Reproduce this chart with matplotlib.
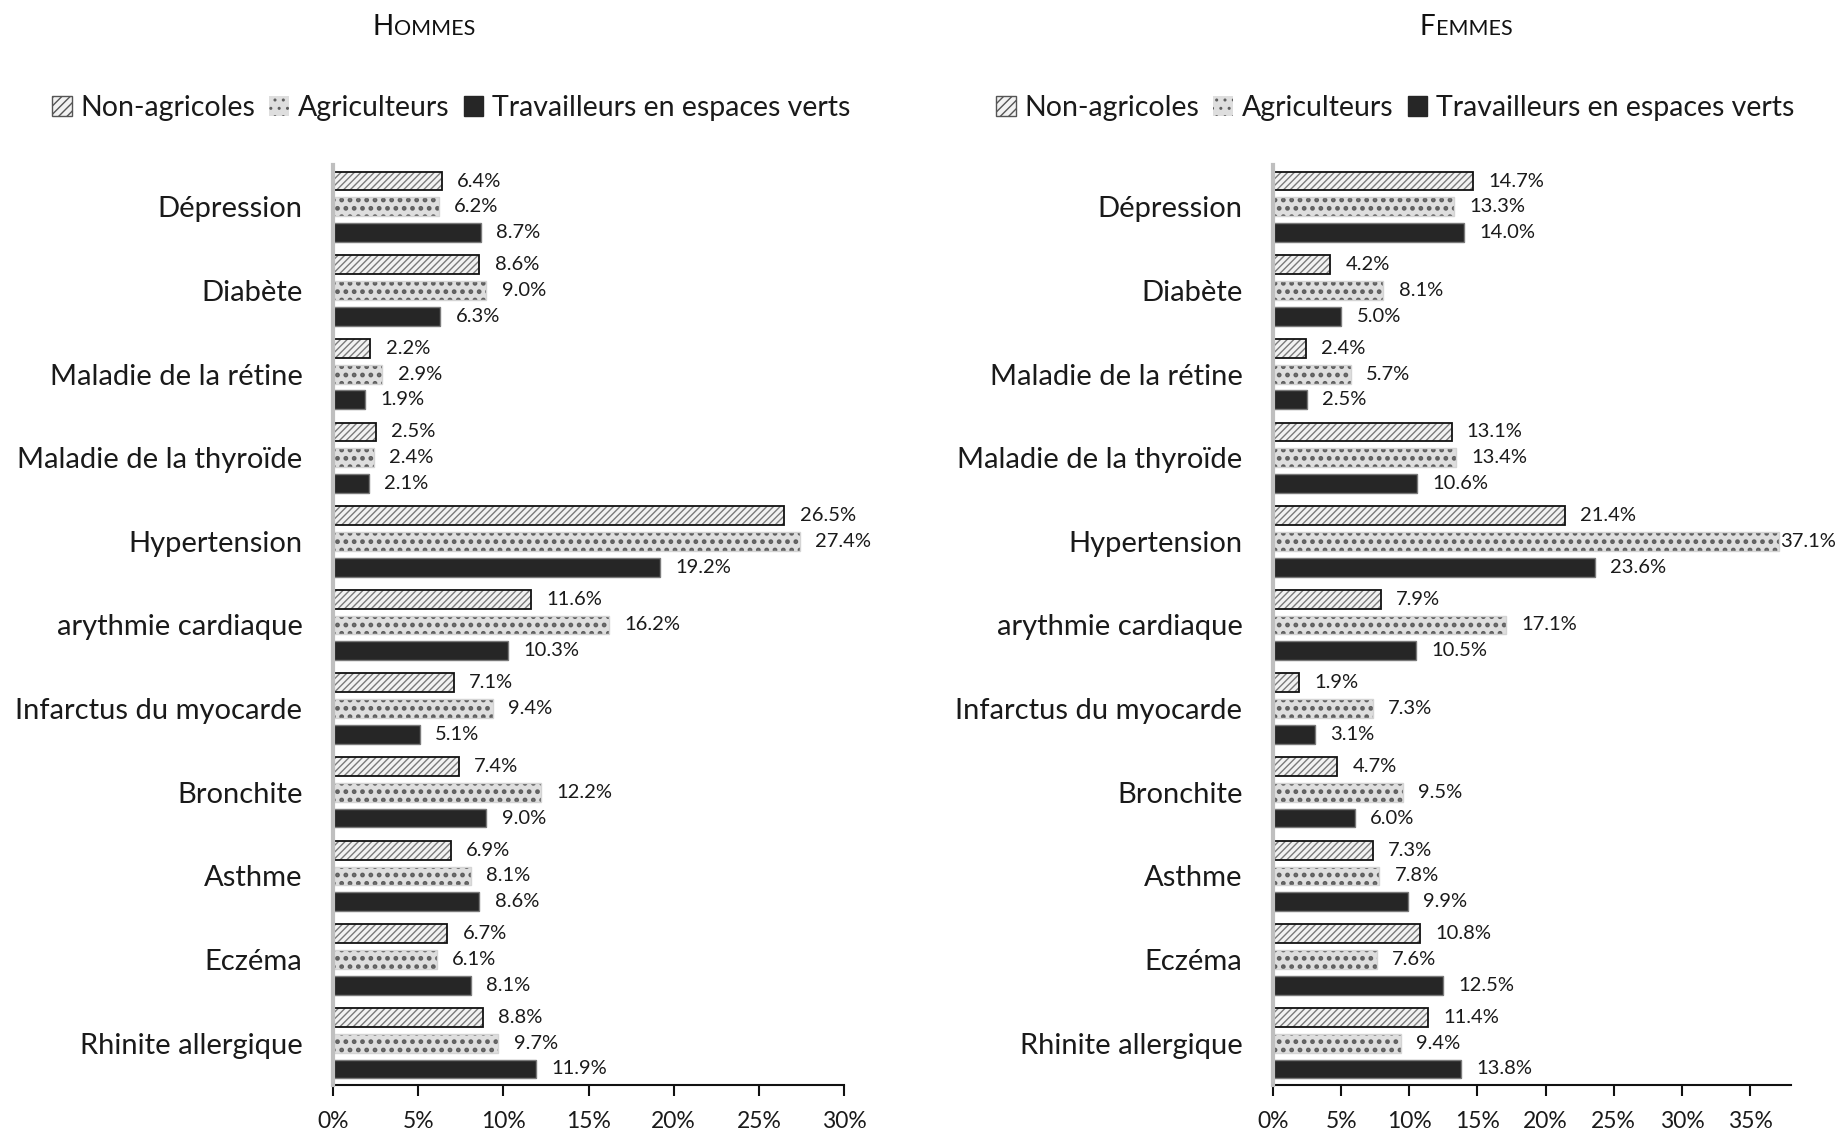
import matplotlib
matplotlib.use("Agg")
import matplotlib.pyplot as plt
import numpy as np
from matplotlib.patches import Patch
from matplotlib.offsetbox import TextArea, HPacker, AnchoredOffsetbox

plt.rcParams['font.family'] = ['Lato', 'DejaVu Sans']

categories = ["Dépression", "Diabète", "Maladie de la rétine", "Maladie de la thyroïde",
              "Hypertension", "arythmie cardiaque", "Infarctus du myocarde", "Bronchite",
              "Asthme", "Eczéma", "Rhinite allergique"]
series = ["Non-agricoles", "Agriculteurs", "Travailleurs en espaces verts"]

hommes_non_agri = [6.4, 8.6, 2.2, 2.5, 26.5, 11.6, 7.1, 7.4, 6.9, 6.7, 8.8]
hommes_agri = [6.2, 9.0, 2.9, 2.4, 27.4, 16.2, 9.4, 12.2, 8.1, 6.1, 9.7]
hommes_verts = [8.7, 6.3, 1.9, 2.1, 19.2, 10.3, 5.1, 9.0, 8.6, 8.1, 11.9]

femmes_non_agri = [14.7, 4.2, 2.4, 13.1, 21.4, 7.9, 1.9, 4.7, 7.3, 10.8, 11.4]
femmes_agri = [13.3, 8.1, 5.7, 13.4, 37.1, 17.1, 7.3, 9.5, 7.8, 7.6, 9.4]
femmes_verts = [14.0, 5.0, 2.5, 10.6, 23.6, 10.5, 3.1, 6.0, 9.9, 12.5, 13.8]

hommes_ticks = [0, 5, 10, 15, 20, 25, 30]
femmes_ticks = [0, 5, 10, 15, 20, 25, 30, 35]

fig = plt.figure(figsize=(18.38, 11.31), dpi=100)

W, H = 1838, 1131
def axrect(x0, x1, ytop, ybot):
    return [x0 / W, 1 - ybot / H, (x1 - x0) / W, (ybot - ytop) / H]

ax1 = fig.add_axes(axrect(333, 844, 165, 1085))
ax2 = fig.add_axes(axrect(1273, 1791, 165, 1085))

step = 0.308
bh = 0.225
TXT = '#1a1a1a'

def draw(ax, vals, xmax, ticks):
    y = np.arange(len(categories))
    a, b, c = vals
    with plt.rc_context({'hatch.linewidth': 1.0}):
        ax.barh(y - step, a, height=bh, color='#f2f2f2', edgecolor='#7a7a7a', hatch='/////', linewidth=0, zorder=2)
    ax.barh(y - step, a, height=bh, fill=False, edgecolor='#111111', linewidth=1.3, zorder=3)
    with plt.rc_context({'hatch.linewidth': 2.2}):
        ax.barh(y, b, height=bh, color='#dedede', edgecolor='#5e5e5e', hatch='..', linewidth=0, zorder=2)
    ax.barh(y, b, height=bh, fill=False, edgecolor='#d4d4d4', linewidth=1.0, zorder=3)
    ax.barh(y + step, c, height=bh, color='#262626', edgecolor='#7a7a7a', linewidth=1.0, zorder=2)

    for off, vv in ((-step, a), (0, b), (step, c)):
        for yi, v in zip(y, vv):
            dx = 1 if v > xmax - 2 else 11
            ax.annotate(f"{v:.1f}%", (v, yi + off), xytext=(dx, 0), textcoords='offset points',
                        ha='left', va='center', fontsize=14.5, color=TXT,
                        annotation_clip=False)

    ax.set_ylim(len(categories) - 0.5, -0.5)
    ax.set_xlim(0, xmax)
    ax.set_yticks(y)
    ax.set_yticklabels(categories, fontsize=21, color=TXT)
    ax.tick_params(axis='y', length=0, pad=22)
    ax.set_xticks(ticks)
    ax.set_xticklabels([f"{t}%" for t in ticks], fontsize=16.5, color=TXT)
    ax.tick_params(axis='x', direction='out', length=8, width=1.5, pad=11, color='#111111')
    for s in ('top', 'right'):
        ax.spines[s].set_visible(False)
    ax.spines['left'].set_color('#bfbfbf')
    ax.spines['left'].set_linewidth(3)
    ax.spines['left'].set_zorder(5)
    ax.spines['bottom'].set_color('#111111')
    ax.spines['bottom'].set_linewidth(1.5)

draw(ax1, (hommes_non_agri, hommes_agri, hommes_verts), 30, hommes_ticks)
draw(ax2, (femmes_non_agri, femmes_agri, femmes_verts), 38, femmes_ticks)

with plt.rc_context({'hatch.linewidth': 1.0}):
    h1 = Patch(facecolor='#f2f2f2', edgecolor='#555555', hatch='////', linewidth=1.0)
with plt.rc_context({'hatch.linewidth': 2.2}):
    h2 = Patch(facecolor='#dedede', edgecolor='#5e5e5e', hatch='..', linewidth=0)
h3 = Patch(facecolor='#262626', edgecolor='#262626')
handles = [h1, h2, h3]
for cx in (451, 1395):
    fig.legend(handles, series, loc='center', bbox_to_anchor=(cx / W, 1 - 108 / H),
               ncol=3, frameon=False, fontsize=20.5, handlelength=0.7, handleheight=0.7,
               handletextpad=0.3, columnspacing=0.5, labelcolor=TXT)

def smallcaps_title(word, cx, cy):
    t1 = TextArea(word[0], textprops=dict(fontsize=20, color='#111111'))
    t2 = TextArea(word[1:].upper(), textprops=dict(fontsize=15.5, color='#111111'))
    box = HPacker(children=[t1, t2], align='baseline', pad=0, sep=0)
    ab = AnchoredOffsetbox(loc='center', child=box, frameon=False,
                           bbox_to_anchor=(cx / W, 1 - cy / H),
                           bbox_transform=fig.transFigure, borderpad=0, pad=0)
    fig.add_artist(ab)

smallcaps_title("Hommes", 424, 27)
smallcaps_title("Femmes", 1466, 27)

fig.savefig("out.png", dpi=100, facecolor='white')
